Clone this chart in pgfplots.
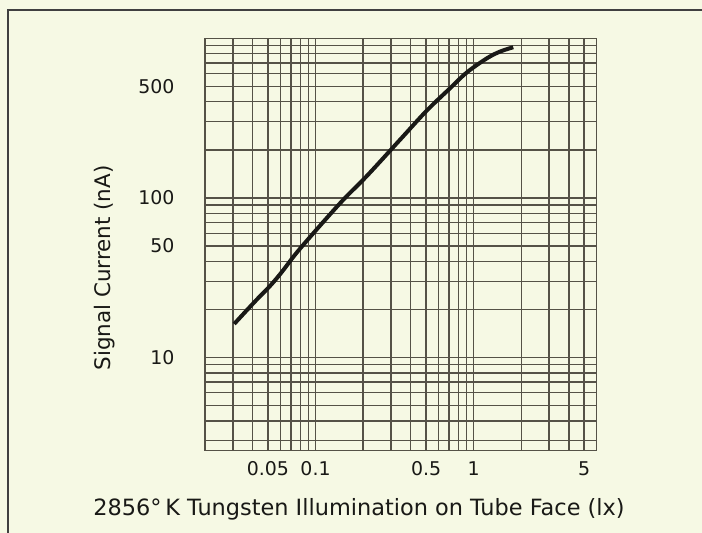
\documentclass[border=0pt]{standalone}
\usepackage{fontspec}
\setmainfont{DejaVu Sans}
\usepackage{pgfplots}
\pgfplotsset{compat=1.18}

\definecolor{paper}{RGB}{246,249,228}
\definecolor{gridc}{RGB}{55,52,38}
\definecolor{ink}{RGB}{25,25,22}

\begin{document}
\begin{tikzpicture}
% page and scan frame
\fill[paper] (0,0) rectangle (702bp,533bp);
\path[use as bounding box] (0,0) rectangle (702bp,533bp);
\draw[line width=2bp, color=black!75] (8bp,0) -- (8bp,523bp) -- (702bp,523bp);

\begin{axis}[
    at={(205bp,82.3bp)}, anchor=south west,
    scale only axis,
    width=391.7bp, height=412.4bp,
    xmode=log, ymode=log,
    xmin=0.02, xmax=6,
    ymin=2.6, ymax=1000,
    xtick={0.05,0.1,0.5,1,5},
    xticklabels={0.05,0.1,0.5,1,5},
    minor xtick={0.02,0.03,0.04,0.06,0.07,0.08,0.09,0.2,0.3,0.4,0.6,0.7,0.8,0.9,2,3,4,6},
    ytick={10,50,100,500},
    yticklabels={10,50,100,500},
    minor ytick={3,4,5,6,7,8,9,20,30,40,60,70,80,90,200,300,400,600,700,800,900,1000},
    grid=both,
    major grid style={line width=1.4bp, color=gridc!85},
    minor grid style={line width=1.4bp, color=gridc!85},
    axis line style={line width=1.4bp, color=gridc!85},
    major tick length=0pt, minor tick length=0pt,
    tick label style={font=\fontsize{19}{21}\selectfont, color=ink},
    xticklabel style={yshift=-7bp},
    yticklabel style={xshift=-27bp},
    clip=false,
]
\addplot[line width=4bp, color=ink, smooth, tension=0.6] coordinates {
(0.0306,16.2) (0.0414,22.4) (0.0515,28.0) (0.0611,34.2) (0.0798,48.0)
(0.143,92.5) (0.211,137) (0.342,231) (0.505,352)
(0.709,486) (0.904,610) (1.21,748) (1.468,825) (1.78,879)
};
\end{axis}

\node[anchor=base, font=\fontsize{22.5}{26}\selectfont, color=ink] at (359bp,18bp)
  {2856°\,K Tungsten Illumination on Tube Face (lx)};
\node[anchor=base, rotate=90, font=\fontsize{21.5}{24}\selectfont, color=ink] at (110bp,265bp)
  {Signal Current (nA)};
\end{tikzpicture}
\end{document}
